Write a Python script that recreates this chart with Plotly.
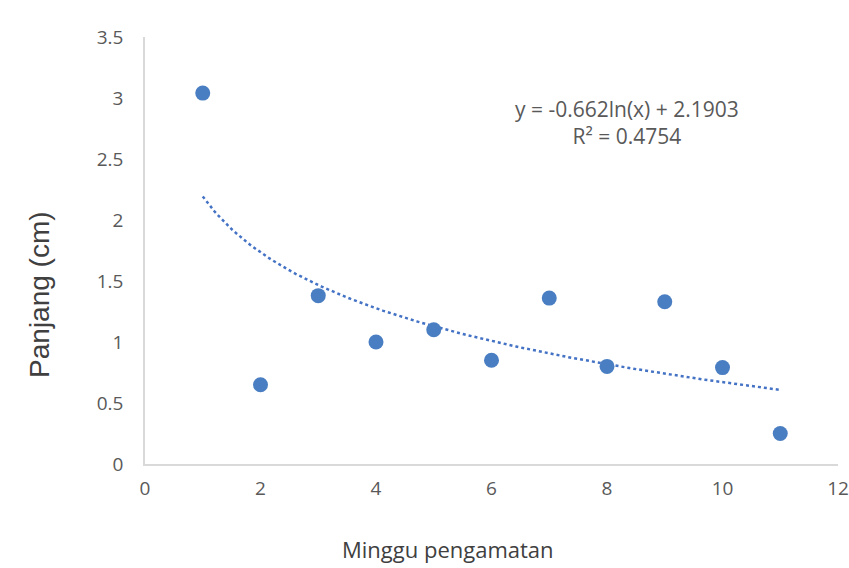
import numpy as np
import plotly.graph_objects as go

weeks = [1, 2, 3, 4, 5, 6, 7, 8, 9, 10, 11]
panjang = [3.04, 0.65, 1.38, 1.00, 1.10, 0.85, 1.36, 0.80, 1.33, 0.79, 0.25]
x_ticks = [0, 2, 4, 6, 8, 10, 12]
y_ticks = [0, 0.5, 1, 1.5, 2, 2.5, 3, 3.5]
y_tick_labels = ["0", "0.5", "1", "1.5", "2", "2.5", "3", "3.5"]
eq_text = "y = -0.662ln(x) + 2.1903<br>R² = 0.4754"
x_title = "Minggu pengamatan"
y_title = "Panjang (cm)"

# logarithmic trendline fitted from the data (as the chart's trendline)
lx = np.log(np.array(weeks, dtype=float))
b, a = np.polyfit(lx, np.array(panjang), 1)
xt = np.linspace(min(weeks), max(weeks), 200)
yt = b * np.log(xt) + a

fig = go.Figure()
fig.add_trace(go.Scatter(x=xt, y=yt, mode="lines",
                         line=dict(color="#4472C4", width=2.5, dash="dot"),
                         hoverinfo="skip", showlegend=False))
fig.add_trace(go.Scatter(x=weeks, y=panjang, mode="markers",
                         marker=dict(color="#4A7EC2", size=15),
                         showlegend=False))

fig.add_annotation(x=8.35, y=2.8, xref="x", yref="y", text=eq_text,
                   showarrow=False, align="center",
                   font=dict(family="Open Sans, Liberation Sans", size=21, color="#595959"))
fig.add_annotation(x=0.437, y=-0.199, xref="paper", yref="paper",
                   text=x_title, showarrow=False, xanchor="center", yanchor="middle",
                   font=dict(family="Open Sans, Liberation Sans", size=22, color="#404040"))
fig.add_annotation(x=-0.1515, y=0.396, xref="paper", yref="paper",
                   text=y_title, showarrow=False, textangle=-90,
                   xanchor="center", yanchor="middle",
                   font=dict(family="Liberation Sans, Arial", size=28, color="#404040"))

axis_font = dict(family="Open Sans, Liberation Sans", size=19, color="#595959")
fig.update_layout(
    width=849, height=568,
    margin=dict(l=145, r=11, t=37, b=104),
    plot_bgcolor="white", paper_bgcolor="white",
    xaxis=dict(range=[0, 12], tickvals=x_ticks, showgrid=False, zeroline=False,
               automargin=False,
               showline=True, linecolor="#D9D9D9", linewidth=1.5,
               ticks="outside", ticklen=6, tickcolor="rgba(0,0,0,0)", tickfont=axis_font),
    yaxis=dict(range=[0, 3.5], tickvals=y_ticks, ticktext=y_tick_labels,
               showgrid=False, zeroline=False, automargin=False,
               showline=True, linecolor="#D9D9D9", linewidth=1.5,
               ticks="outside", ticklen=16, tickcolor="rgba(0,0,0,0)", tickfont=axis_font),
)

fig.write_html("out.html",
               config={"displayModeBar": False},
               post_script="document.body.style.margin='0';document.body.style.overflow='hidden';")
